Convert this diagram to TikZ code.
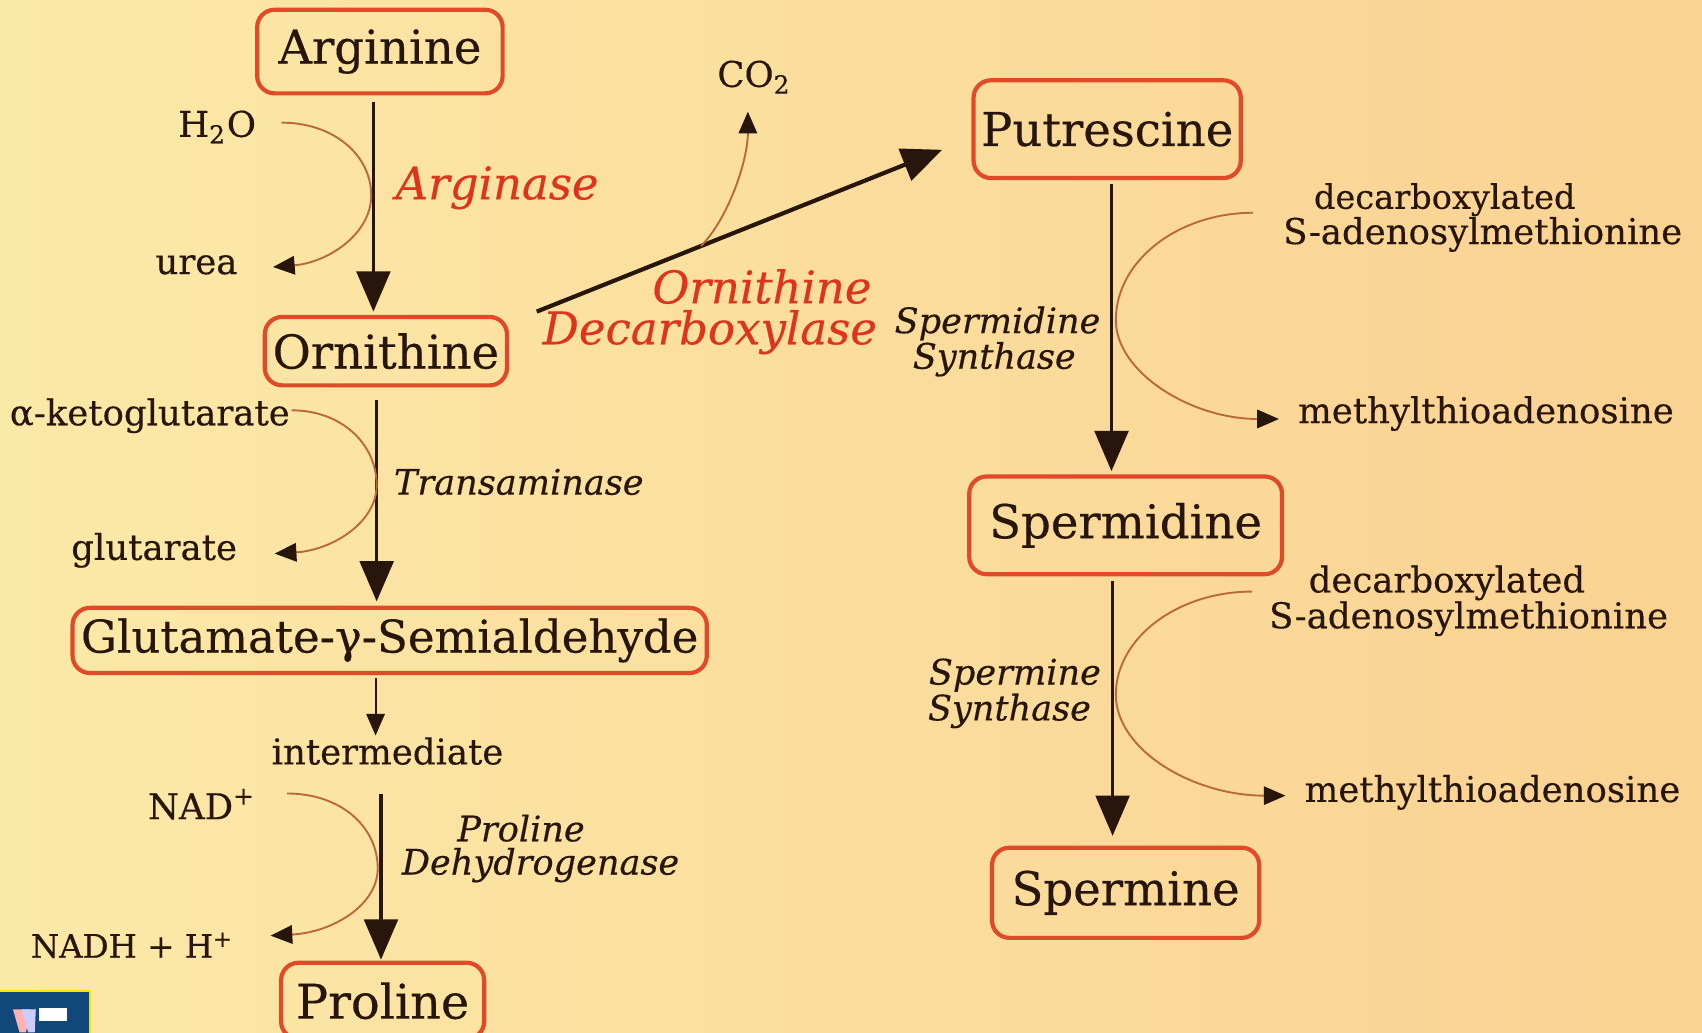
\documentclass[tikz,border=0pt]{standalone}
\usepackage{fontspec}
\setmainfont{DejaVu Serif}[FakeBold=0.35]
\usetikzlibrary{arrows.meta,calc}
\definecolor{bgL}{RGB}{251,233,168}
\definecolor{bgR}{RGB}{250,210,146}
\definecolor{boxred}{RGB}{224,74,40}
\definecolor{ink}{RGB}{40,22,12}
\definecolor{enz}{RGB}{222,52,28}
\definecolor{curvec}{RGB}{185,105,60}
\definecolor{slideblue}{RGB}{16,72,122}
\tikzset{
 metab/.style={draw=boxred, line width=1.1pt, rounded corners=0.16cm, inner sep=0pt, text=ink, font=\fontsize{12.2}{14}\selectfont},
 small/.style={text=ink, inner sep=0pt, font=\fontsize{9.3}{11}\selectfont},
 enzred/.style={text=enz, inner sep=0pt, font=\itshape\fontsize{11.8}{13}\selectfont},
 enzdark/.style={text=ink, inner sep=0pt, font=\itshape\fontsize{9.2}{10}\selectfont},
 mainarrow/.style={draw=ink, line width=0.85pt, -{Triangle[length=0.37cm,width=0.31cm,color=ink]}},
 thinarrow/.style={draw=ink, line width=0.5pt, -{Triangle[length=0.2cm,width=0.17cm,color=ink]}},
 sidearrow/.style={draw=curvec, line width=0.5pt, -{Triangle[length=0.2cm,width=0.17cm,color=ink]}},
}
\begin{document}
\begin{tikzpicture}[x=0.01cm,y=-0.01cm]
\useasboundingbox (0,0) rectangle (1568,951);
\shade[left color=bgL, right color=bgR] (0,0) rectangle (1568,951);
\begin{scope}
\clip (0,0) rectangle (1568,951);
% metabolite boxes
\node[metab, minimum width=2.26cm, minimum height=0.77cm] (arg) at (350,47.5) {Arginine};
\node[metab, minimum width=2.23cm, minimum height=0.63cm] (orn) at (355.5,323.5) {Ornithine};
\node[metab, minimum width=5.84cm, minimum height=0.60cm, font=\fontsize{11.8}{14}\selectfont] (glu) at (359,590) {Glutamate-γ-Semialdehyde};
\node[metab, minimum width=1.87cm, minimum height=0.70cm, font=\fontsize{12.5}{14}\selectfont] (pro) at (352.5,922) {Proline};
\node[metab, minimum width=2.46cm, minimum height=0.90cm] (put) at (1020,119) {Putrescine};
\node[metab, minimum width=2.88cm, minimum height=0.90cm] (sd) at (1037,484) {Spermidine};
\node[metab, minimum width=2.46cm, minimum height=0.83cm] (sm) at (1037,822.5) {Spermine};

% small labels
\node[small] (h2o) at (200,117) {H\textsubscript{2}O};
\node[small] (urea) at (181,244) {urea};
\node[small] (akg) at (138,383) {α-ketoglutarate};
\node[small] (glut) at (142,507) {glutarate};
\node[small] (inter) at (357,692) {intermediate};
\node[small] (nad) at (186,741) {NAD\textsuperscript{+}};
\node[small, font=\fontsize{8.5}{10}\selectfont] (nadh) at (122,871) {NADH + H\textsuperscript{+}};
\node[small] (co2) at (695,71) {CO\textsubscript{2}};
\node[small, font=\fontsize{8.8}{10}\selectfont] (dc1) at (1331,184) {decarboxylated};
\node[small] (sam1) at (1366,216) {S-adenosylmethionine};
\node[small] (mta1) at (1369,381) {methylthioadenosine};
\node[small] (dc2) at (1333,537) {decarboxylated};
\node[small] (sam2) at (1353,570) {S-adenosylmethionine};
\node[small] (mta2) at (1375,730) {methylthioadenosine};

% enzyme labels
\node[enzred] (argase) at (458,173) {Arginase};
\node[enzred] (odc1) at (702,264) {Ornithine};
\node[enzred] (odc2) at (654,306) {Decarboxylase};
\node[enzdark] (trans) at (478,444) {Transaminase};
\node[enzdark] (pd1) at (480,763) {Proline};
\node[enzdark] (pd2) at (498,797) {Dehydrogenase};
\node[enzdark] (ss1) at (919,298) {Spermidine};
\node[enzdark] (ss2) at (916,331) {Synthase};
\node[enzdark] (sms1) at (935,622) {Spermine};
\node[enzdark] (sms2) at (930,655) {Synthase};

% main arrows
\draw[mainarrow] ($(arg.south)+(-6,6)$) -- ($(orn.north)+(-11.5,-3)$);
\draw[mainarrow] ($(orn.south)+(-8.5,12)$) -- ($(glu.north)+(-12,-4)$);
\draw[thinarrow] ($(glu.south)+(-13,3)$) -- ($(inter.north)+(-11,-1)$);
\draw[mainarrow] ($(inter.south)+(-6,26)$) -- ($(pro.north)+(-1.5,-1)$);
\draw[mainarrow, line width=1.1pt] ($(orn.north east)+(25.5,-3)$) coordinate (odcS) -- ($(put.west)+(-27,19)$) coordinate (odcE);
\draw[mainarrow] ($(put.south)+(4,4)$) -- ($(sd.north)+(-13,-3)$);
\draw[mainarrow] ($(sd.south)+(-12,4)$) -- ($(sm.north)+(-12,-9)$);

% side curves
\draw[sidearrow] ($(h2o.east)+(23,-4)$) .. controls +(48,0) and +(0,-37) .. (342,180)
   .. controls +(0,36) and +(50,-4) .. ($(urea.east)+(32,2)$);
\draw[sidearrow] ($(akg.east)+(1,-5)$) .. controls +(46,0) and +(0,-38) .. (347,447)
   .. controls +(0,35) and +(52,-3) .. ($(glut.east)+(34,3)$);
\draw[sidearrow] ($(nad.east)+(28,-10)$) .. controls +(50,0) and +(0,-38) .. (348,800)
   .. controls +(0,34) and +(57,-3) .. ($(nadh.east)+(33,-9)$);
\draw[sidearrow] ($(odcS)!0.405!(odcE)$) .. controls +(25,-25) and +(0,45) .. ($(co2.south)+(-6,16)$);
\draw[sidearrow] ($(sam1.west)+(-27,-20)$) .. controls +(-69,0) and +(0,-55) .. (1028,295)
   .. controls +(0,48) and +(-81,0) .. ($(mta1.west)+(-17,5)$);
\draw[sidearrow] ($(sam2.west)+(-15,-25)$) .. controls +(-69,0) and +(0,-52) .. (1028,640)
   .. controls +(0,51) and +(-85,0) .. ($(mta2.west)+(-17,3)$);

% slide corner artefact
\fill[slideblue] (0,913) rectangle (83,955);
\draw[yellow!85!orange, line width=0.7pt] (0,913) -- (83,913) -- (83,955);
\fill[white] (36,929) rectangle (62,941);
\fill[red!30!white] (12,930) -- (18,951) -- (24,951) -- (28,930) -- cycle;
\fill[blue!20!white] (20,930) -- (26,951) -- (32,951) -- (33,930) -- cycle;
\end{scope}
\end{tikzpicture}
\end{document}
